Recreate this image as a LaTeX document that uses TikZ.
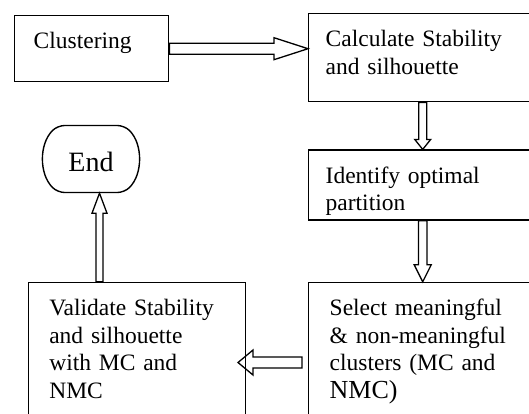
\documentclass[tikz,border=0pt]{standalone}
\usepackage{fontspec}
\setmainfont{Liberation Serif}
\usetikzlibrary{positioning,calc,shapes.misc}
\newcommand{\hollowarrow}[5]{% from, to, shaft half width, head half width, head length
  \draw[hollow]
    ($(#1)!#3!90:(#2)$) --
    ($(#2)!#5!(#1)!#3!-90:(#1)$) --
    ($(#2)!#5!(#1)!#4!-90:(#1)$) --
    (#2) --
    ($(#2)!#5!(#1)!#4!90:(#1)$) --
    ($(#2)!#5!(#1)!#3!90:(#1)$) --
    ($(#1)!#3!-90:(#2)$) -- cycle;}

\begin{document}
\begin{tikzpicture}[
    x=1pt, y=-1pt,
    box/.style={
        draw,
        line width=1.4pt,
        anchor=north west,
        align=left,
        inner ysep=0pt,
        text height=33pt,
        font=\fontsize{23.5}{27.7}\selectfont
    },
    terminal/.style={
        draw,
        line width=1.4pt,
        rounded rectangle,
        rounded rectangle arc length=90,
        rounded corners=7pt,
        minimum width=94pt,
        minimum height=67pt,
        inner sep=0pt,
        text height=24pt,
        text depth=0pt,
        font=\fontsize{28}{30}\selectfont
    },
    hollow/.style={
        draw,
        line width=1.3pt,
        line join=miter
    }
]
\useasboundingbox (0,0) rectangle (529,413);
\clip (0,0) rectangle (529,413);
\node[box, inner xsep=19pt, text width=116pt, text depth=33pt] (clust) at (14,15)
{Clustering};
\node[box, inner xsep=17pt, text width=194pt, text depth=55pt] (calc) at (308,13)
{Calculate Stability\\
and silhouette};
\node[box, inner xsep=17pt, text width=194pt, text depth=37pt,
    below=47pt of calc.south west, anchor=north west] (identify)
{Identify optimal\\
partition};
\node[box, inner xsep=21pt, text width=186pt, text depth=127pt,
    below=61pt of identify.south west, anchor=north west] (select)
{Select meaningful\\
\& non-meaningful\\
clusters (MC and\\
{\fontsize{26}{27.7}\selectfont NMC)}};
\node[box, inner xsep=21pt, text width=175pt, text depth=127pt,
    left=62pt of select.north west, anchor=north east] (valid)
{Validate Stability\\
and silhouette\\
with MC and\\
NMC};
\node[terminal] (endnode) at (91,159) {End};
\coordinate (calcIn) at (clust.east -| calc.west);
\coordinate (selOut) at ([xshift=-6pt]select.west);
\coordinate (validIn) at ([xshift=-8pt]valid.east);
\coordinate (endIn) at ([xshift=8.5pt]endnode.south);
\coordinate (validOut) at (valid.north -| endIn);
\hollowarrow{clust.east}{calcIn}{5.5pt}{11pt}{34pt}
\hollowarrow{calc.south}{identify.north}{4pt}{8pt}{10pt}
\hollowarrow{identify.south}{select.north}{4.2pt}{8.5pt}{17pt}
\hollowarrow{selOut}{validIn}{5.5pt}{12.5pt}{15pt}
\hollowarrow{validOut}{endIn}{3.5pt}{7.5pt}{20pt}
\end{tikzpicture}
\end{document}
